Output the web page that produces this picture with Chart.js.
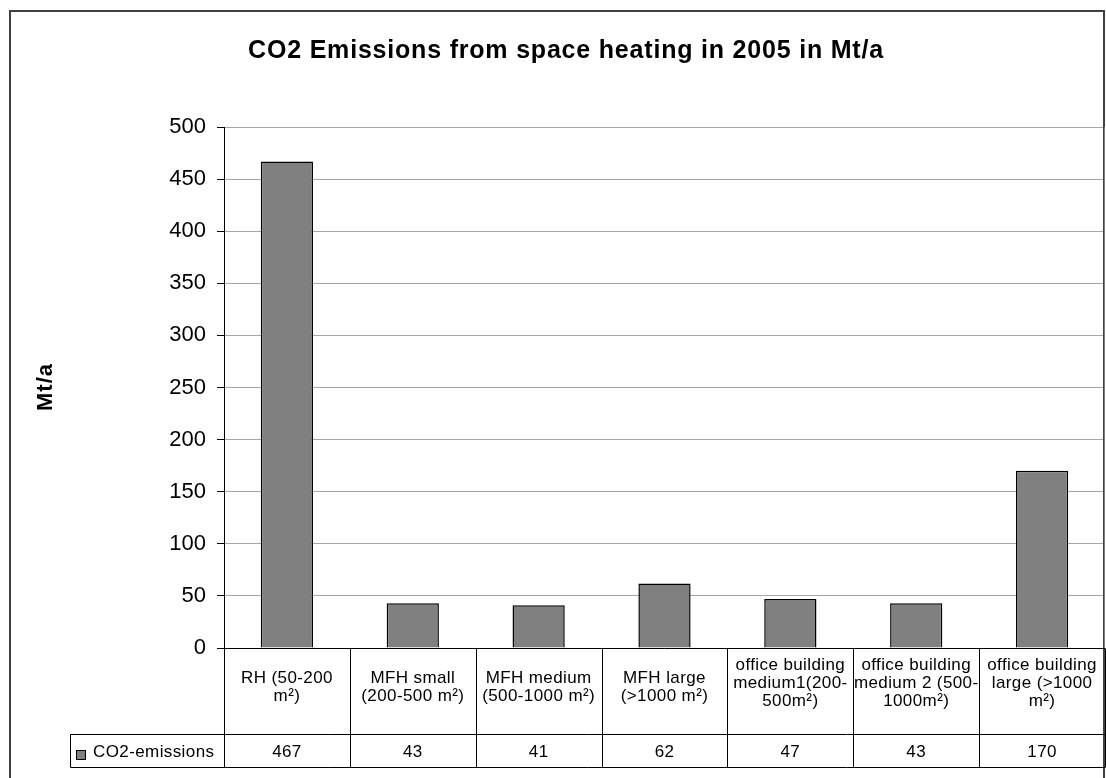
<!DOCTYPE html>
<html>
<head>
<meta charset="utf-8">
<script src="https://cdn.jsdelivr.net/npm/chart.js@4"></script>
<style>
  body { margin: 0; background: #fff; }
  canvas { display: block; }
</style>
</head>
<body>
<canvas id="chart" width="1106" height="778"></canvas>
<script>
// chart data
const categories = [
    ['RH (50-200', 'm²)'],
    ['MFH small', '(200-500 m²)'],
    ['MFH medium', '(500-1000 m²)'],
    ['MFH large', '(>1000 m²)'],
    ['office building', 'medium1(200-', '500m²)'],
    ['office building', 'medium 2 (500-', '1000m²)'],
    ['office building', 'large (>1000', 'm²)']
];
const co2Values = [467, 43, 41, 62, 47, 43, 170];
const seriesName = 'CO2-emissions';
const chartTitle = 'CO2 Emissions from space heating in 2005 in Mt/a';
const yTitle = 'Mt/a';

const FONT = 'Arial, "Liberation Sans", sans-serif';

// frame, titles and the data table under the plot
const tablePlugin = {
    id: 'tablePlugin',
    afterDraw(chart) {
        const ctx = chart.ctx;
        const area = chart.chartArea;
        const x = chart.scales.x;
        const n = categories.length;
        const colW = (area.right - area.left) / n;
        const top = Math.round(area.bottom) + 0.5;
        const mid = top + 86;
        const bot = mid + 33;
        const legendLeft = 70.5;

        ctx.save();
        // outer frame
        ctx.strokeStyle = '#404040';
        ctx.lineWidth = 2;
        ctx.strokeRect(10, 11, 1094, 800);

        // plot right border
        ctx.lineWidth = 1;
        ctx.strokeStyle = '#808080';
        ctx.beginPath();
        ctx.moveTo(Math.round(area.right) - 0.5, area.top);
        ctx.lineTo(Math.round(area.right) - 0.5, area.bottom);
        ctx.stroke();

        // title
        ctx.fillStyle = '#000';
        ctx.font = 'bold 25px ' + FONT;
        ctx.letterSpacing = '0.8px';
        ctx.textAlign = 'center';
        ctx.textBaseline = 'alphabetic';
        ctx.fillText(chartTitle, 566, 58);

        // y axis title
        ctx.save();
        ctx.translate(46, 387);
        ctx.rotate(-Math.PI / 2);
        ctx.font = 'bold 22px ' + FONT;
        ctx.letterSpacing = '1px';
        ctx.textBaseline = 'middle';
        ctx.fillText(yTitle, 0, 0);
        ctx.restore();

        // table grid
        ctx.strokeStyle = '#000';
        ctx.lineWidth = 1;
        ctx.beginPath();
        ctx.moveTo(area.left, top);
        ctx.lineTo(area.right, top);
        ctx.moveTo(legendLeft, mid);
        ctx.lineTo(area.right, mid);
        ctx.moveTo(legendLeft, bot);
        ctx.lineTo(area.right, bot);
        ctx.moveTo(legendLeft, mid);
        ctx.lineTo(legendLeft, bot);
        for (let i = 0; i <= n; i++) {
            const px = Math.round(x.getPixelForValue(i) - colW / 2) + 0.5;
            ctx.moveTo(px, top);
            ctx.lineTo(px, bot);
        }
        ctx.stroke();

        // category labels and values
        ctx.fillStyle = '#000';
        ctx.font = '17px ' + FONT;
        ctx.letterSpacing = '0.4px';
        ctx.textAlign = 'center';
        ctx.textBaseline = 'middle';
        const lineH = 18;
        categories.forEach((lines, i) => {
            const cx = x.getPixelForValue(i);
            const cy = lines.length === 3 ? 665 : 678;
            lines.forEach((t, j) => ctx.fillText(t, cx, cy + j * lineH));
            ctx.fillText(String(co2Values[i]), cx, (mid + bot) / 2 + 1);
        });

        // legend key
        ctx.fillStyle = '#808080';
        ctx.fillRect(76, 750, 10, 10);
        ctx.strokeStyle = '#000';
        ctx.strokeRect(76.5, 750.5, 9, 9);
        ctx.fillStyle = '#000';
        ctx.textAlign = 'left';
        ctx.fillText(seriesName, 93, (mid + bot) / 2 + 1);
        ctx.restore();
    }
};

new Chart(document.getElementById('chart'), {
    type: 'bar',
    data: {
        labels: categories,
        datasets: [{
            label: seriesName,
            data: co2Values,
            backgroundColor: '#808080',
            borderColor: '#000',
            borderWidth: 1.5,
            categoryPercentage: 1,
            barPercentage: 0.415
        }]
    },
    options: {
        responsive: false,
        animation: false,
        layout: { padding: { left: 0, right: 1, top: 127, bottom: 130 } },
        plugins: {
            legend: { display: false },
            title: { display: false },
            tooltip: { enabled: false }
        },
        scales: {
            x: { display: false },
            y: {
                min: 0,
                max: 500,
                afterFit(scale) { scale.width = 224; },
                ticks: {
                    stepSize: 50,
                    color: '#000',
                    padding: 11,
                    font: { family: FONT, size: 22 }
                },
                grid: {
                    color: '#a6a6a6',
                    tickColor: '#000',
                    tickLength: 7
                },
                border: { color: '#000', width: 1 }
            }
        }
    },
    plugins: [tablePlugin]
});
</script>
</body>
</html>
